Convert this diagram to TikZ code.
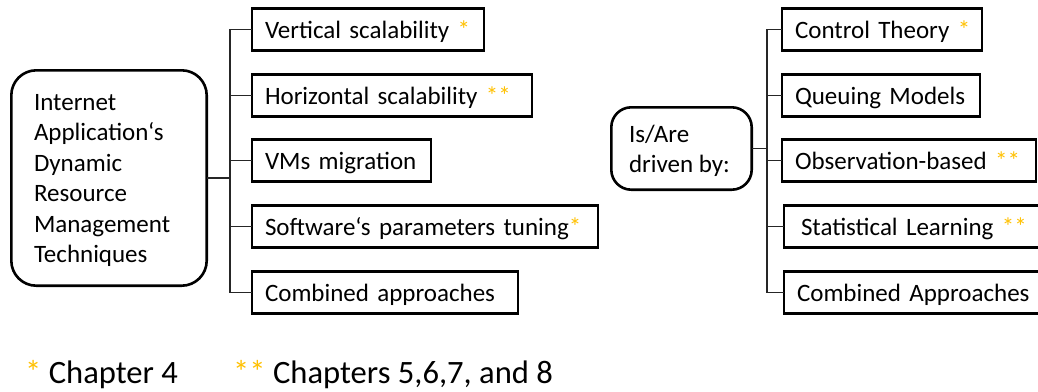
\documentclass[tikz,border=0pt]{standalone}
\usepackage{fontspec}
\setmainfont{Carlito}
\definecolor{gold}{HTML}{FFC000}
\newcommand{\goldstar}[1]{\textcolor{gold}{#1}}
\begin{document}
\begin{tikzpicture}[x=1pt,y=-1pt,
  item/.style={draw, line width=2.6pt, minimum height=42.4pt, inner xsep=13pt, inner ysep=0pt,
    outer sep=0pt, text height=23.8pt, text depth=6.7pt, align=left, anchor=west,
    font=\fontsize{25}{30.5}\selectfont},
  bigbox/.style={draw, line width=2.6pt, rounded corners=25pt, outer sep=0pt, inner sep=0pt},
  smallbox/.style={draw, line width=2.6pt, rounded corners=20pt, outer sep=0pt, inner sep=0pt},
  boxtext/.style={anchor=north west, inner sep=0pt, outer sep=0pt, align=left,
    font=\fontsize{25}{30.5}\selectfont},
  conn/.style={line width=1.3pt, black!85},
  legend/.style={anchor=base west, inner sep=0pt, font=\fontsize{32.6}{38}\selectfont}
]
\useasboundingbox (0,0) rectangle (1038,391);
\clip (0,0) rectangle (1038,391);

% left part
\node[bigbox, minimum width=195.4pt, minimum height=215.4pt] (tech) at (109,178) {};
\node[boxtext] (techtxt) at (34,90) {\rule{0pt}{20pt}Internet\\Application‘s\\Dynamic\\Resource\\Management\\Techniques};

\node[item, text width=206pt] (b1) at (252,29.5) {\mbox{Vertical scalability \goldstar{*}}};
\node[item, text width=254pt] (b2) at (252,95.5) {\mbox{Horizontal scalability \goldstar{**}}};
\node[item, text width=153pt] (b3) at (252,160.5) {\mbox{VMs migration}};
\node[item, text width=320pt] (b4) at (252,226.5) {\mbox{Software‘s parameters tuning\goldstar{*}}};
\node[item, text width=240pt] (b5) at (252,292.5) {\mbox{Combined approaches}};

\coordinate (lj) at (230,178);
\draw[conn] (tech.east) -- (lj);
\foreach \b in {b1,b2,b3,b4,b5} \draw[conn] (\b.west) -| (lj);

% right part
\node[smallbox, minimum width=140.4pt, minimum height=82.4pt] (drv) at (681.5,148.5) {};
\node[boxtext] (drvtxt) at (629,122) {\rule{0pt}{20pt}Is/Are\\driven by:};

\node[item, text width=174pt] (r1) at (782,29.5) {\mbox{Control Theory \goldstar{*}}};
\node[item, text width=172pt] (r2) at (782,95.5) {\mbox{Queuing Models}};
\node[item, text width=228pt] (r3) at (782,160.5) {\mbox{Observation-based \goldstar{**}}};
\node[item, text width=270pt] (r4) at (784,226.5) {\mbox{\hspace*{4pt}Statistical Learning \goldstar{**}}};
\node[item, text width=270pt] (r5) at (784,292.5) {\mbox{Combined Approaches}};

\coordinate (rj) at (767,148.5);
\draw[conn] (drv.east) -- (rj);
\foreach \b in {r1,r2,r3,r4,r5} \draw[conn] (\b.west) -| (rj);

% legend
\node[legend] (leg1) at (25,383) {\goldstar{*} Chapter 4};
\node[legend] (leg2) at (233,383) {\goldstar{**} Chapters 5,6,7, and 8};
\end{tikzpicture}
\end{document}
